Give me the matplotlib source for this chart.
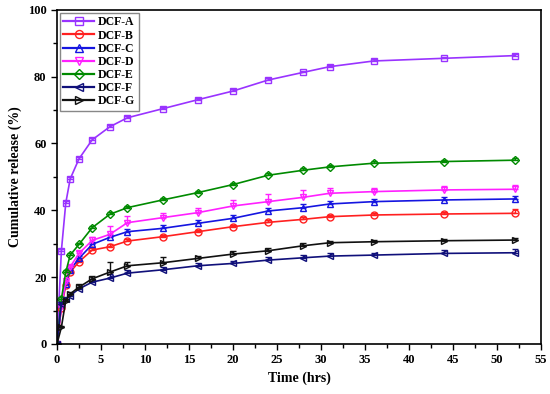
import numpy as np
import matplotlib
matplotlib.use("Agg")
import matplotlib.pyplot as plt
from matplotlib.ticker import MultipleLocator

plt.rcParams["font.family"] = ["Liberation Serif", "DejaVu Serif"]
plt.rcParams["font.weight"] = "bold"

# sampling times (hrs)
time = [0, 0.5, 1, 1.5, 2.5, 4, 6, 8, 12, 16, 20, 24, 28, 31, 36, 44, 52]

# cumulative release (%) per formulation
dcf_a = [0, 27.9, 42.2, 49.4, 55.4, 61.1, 65.0, 67.7, 70.4, 73.1, 75.7, 79.0, 81.3, 83.0, 84.7, 85.5, 86.3]
dcf_b = [0, 10.7, 17.5, 21.5, 24.6, 28.1, 29.1, 30.8, 32.1, 33.6, 35.1, 36.4, 37.3, 38.1, 38.6, 38.9, 39.1]
dcf_c = [0, 12.0, 18.0, 22.2, 25.6, 29.8, 31.9, 33.6, 34.6, 36.1, 37.6, 39.8, 40.8, 41.9, 42.6, 43.1, 43.4]
dcf_d = [0, 11.0, 18.7, 23.1, 27.1, 31.0, 32.8, 36.3, 37.8, 39.3, 41.3, 42.6, 43.9, 45.1, 45.6, 46.1, 46.3]
dcf_e = [0, 13.5, 21.5, 26.6, 29.8, 34.8, 38.8, 40.8, 43.1, 45.3, 47.7, 50.5, 52.0, 53.0, 54.1, 54.6, 55.0]
dcf_f = [0, 12.0, 13.5, 14.5, 16.5, 18.5, 19.7, 21.2, 22.2, 23.4, 24.1, 25.1, 25.8, 26.3, 26.6, 27.1, 27.3]
dcf_g = [0, 5.0, 13.0, 15.0, 17.0, 19.5, 21.5, 23.4, 24.3, 25.6, 26.9, 27.9, 29.4, 30.3, 30.6, 30.9, 31.1]

# standard deviations (%)
err_a = [0, 0.5, 0.5, 0.5, 0.5, 0.5, 0.5, 0.5, 0.5, 0.5, 0.5, 0.5, 0.5, 0.5, 0.5, 0.5, 0.5]
err_b = [0, 0.5, 0.5, 0.5, 0.5, 0.6, 0.8, 0.6, 0.6, 0.6, 0.6, 0.6, 0.6, 0.6, 0.6, 0.6, 1.2]
err_c = [0, 0.5, 0.5, 0.5, 0.6, 0.8, 0.8, 0.8, 1.0, 1.0, 1.0, 1.0, 1.0, 0.8, 0.8, 1.0, 1.0]
err_d = [0, 0.5, 0.5, 0.5, 0.8, 1.0, 2.4, 2.0, 1.5, 1.5, 1.8, 2.4, 2.2, 1.5, 1.2, 1.2, 1.2]
err_e = [0, 0.5, 0.5, 0.5, 0.5, 0.6, 0.6, 0.6, 0.6, 0.6, 0.6, 0.6, 0.6, 0.6, 0.6, 0.6, 0.6]
err_f = [0, 0.5, 0.5, 0.5, 0.6, 0.8, 1.2, 0.8, 0.8, 0.8, 0.8, 0.8, 0.8, 0.8, 0.6, 1.0, 1.0]
err_g = [0, 0.5, 0.5, 0.5, 0.8, 0.8, 3.0, 1.0, 1.8, 0.8, 0.8, 0.8, 0.8, 0.6, 0.6, 0.6, 0.6]

series = [
    ("DCF-A", dcf_a, err_a, "#9933FF", "s"),
    ("DCF-B", dcf_b, err_b, "#FF2020", "o"),
    ("DCF-C", dcf_c, err_c, "#1515E0", "^"),
    ("DCF-D", dcf_d, err_d, "#FF20FF", "v"),
    ("DCF-E", dcf_e, err_e, "#008A00", "D"),
    ("DCF-F", dcf_f, err_f, "#10107A", "<"),
    ("DCF-G", dcf_g, err_g, "#111111", ">"),
]

fig = plt.figure(figsize=(5.5, 3.94), dpi=100)
ax = fig.add_axes([0.1036, 0.127, 0.8800, 0.848])

for name, vals, err, col, mk in series:
    ms = 5 if mk != "D" else 4.5
    ax.errorbar(time, vals, yerr=[np.zeros(len(err)), err], fmt="none",
                ecolor=col, capsize=2.5, elinewidth=1.0)
    ax.plot(time, vals, color=col, marker=mk, markersize=ms,
            markerfacecolor="none", markeredgewidth=1.0, linewidth=1.2,
            label=name)

ax.set_xlim(0, 55)
ax.set_ylim(0, 100)
ax.xaxis.set_major_locator(MultipleLocator(5))
ax.xaxis.set_minor_locator(MultipleLocator(2.5))
ax.yaxis.set_major_locator(MultipleLocator(20))
ax.yaxis.set_minor_locator(MultipleLocator(10))
ax.tick_params(which="both", direction="out", labelsize=9, width=1.0)
ax.tick_params(which="major", length=4)
ax.tick_params(which="minor", length=3)
for sp in ax.spines.values():
    sp.set_linewidth(1.2)

ax.set_xlabel("Time (hrs)", fontsize=10, fontweight="bold")
ax.set_ylabel("Cumulative release (%)", fontsize=10, fontweight="bold")

leg = ax.legend(loc="upper left", fontsize=8.5, frameon=True, fancybox=False,
                edgecolor="#888888", framealpha=1, labelspacing=0.1,
                handlelength=2.6, handletextpad=0.3, borderpad=0.3,
                borderaxespad=0.25, markerscale=1.15)
for ln in leg.get_lines():
    ln.set_linewidth(1.6)

fig.savefig("out.png", dpi=100)
